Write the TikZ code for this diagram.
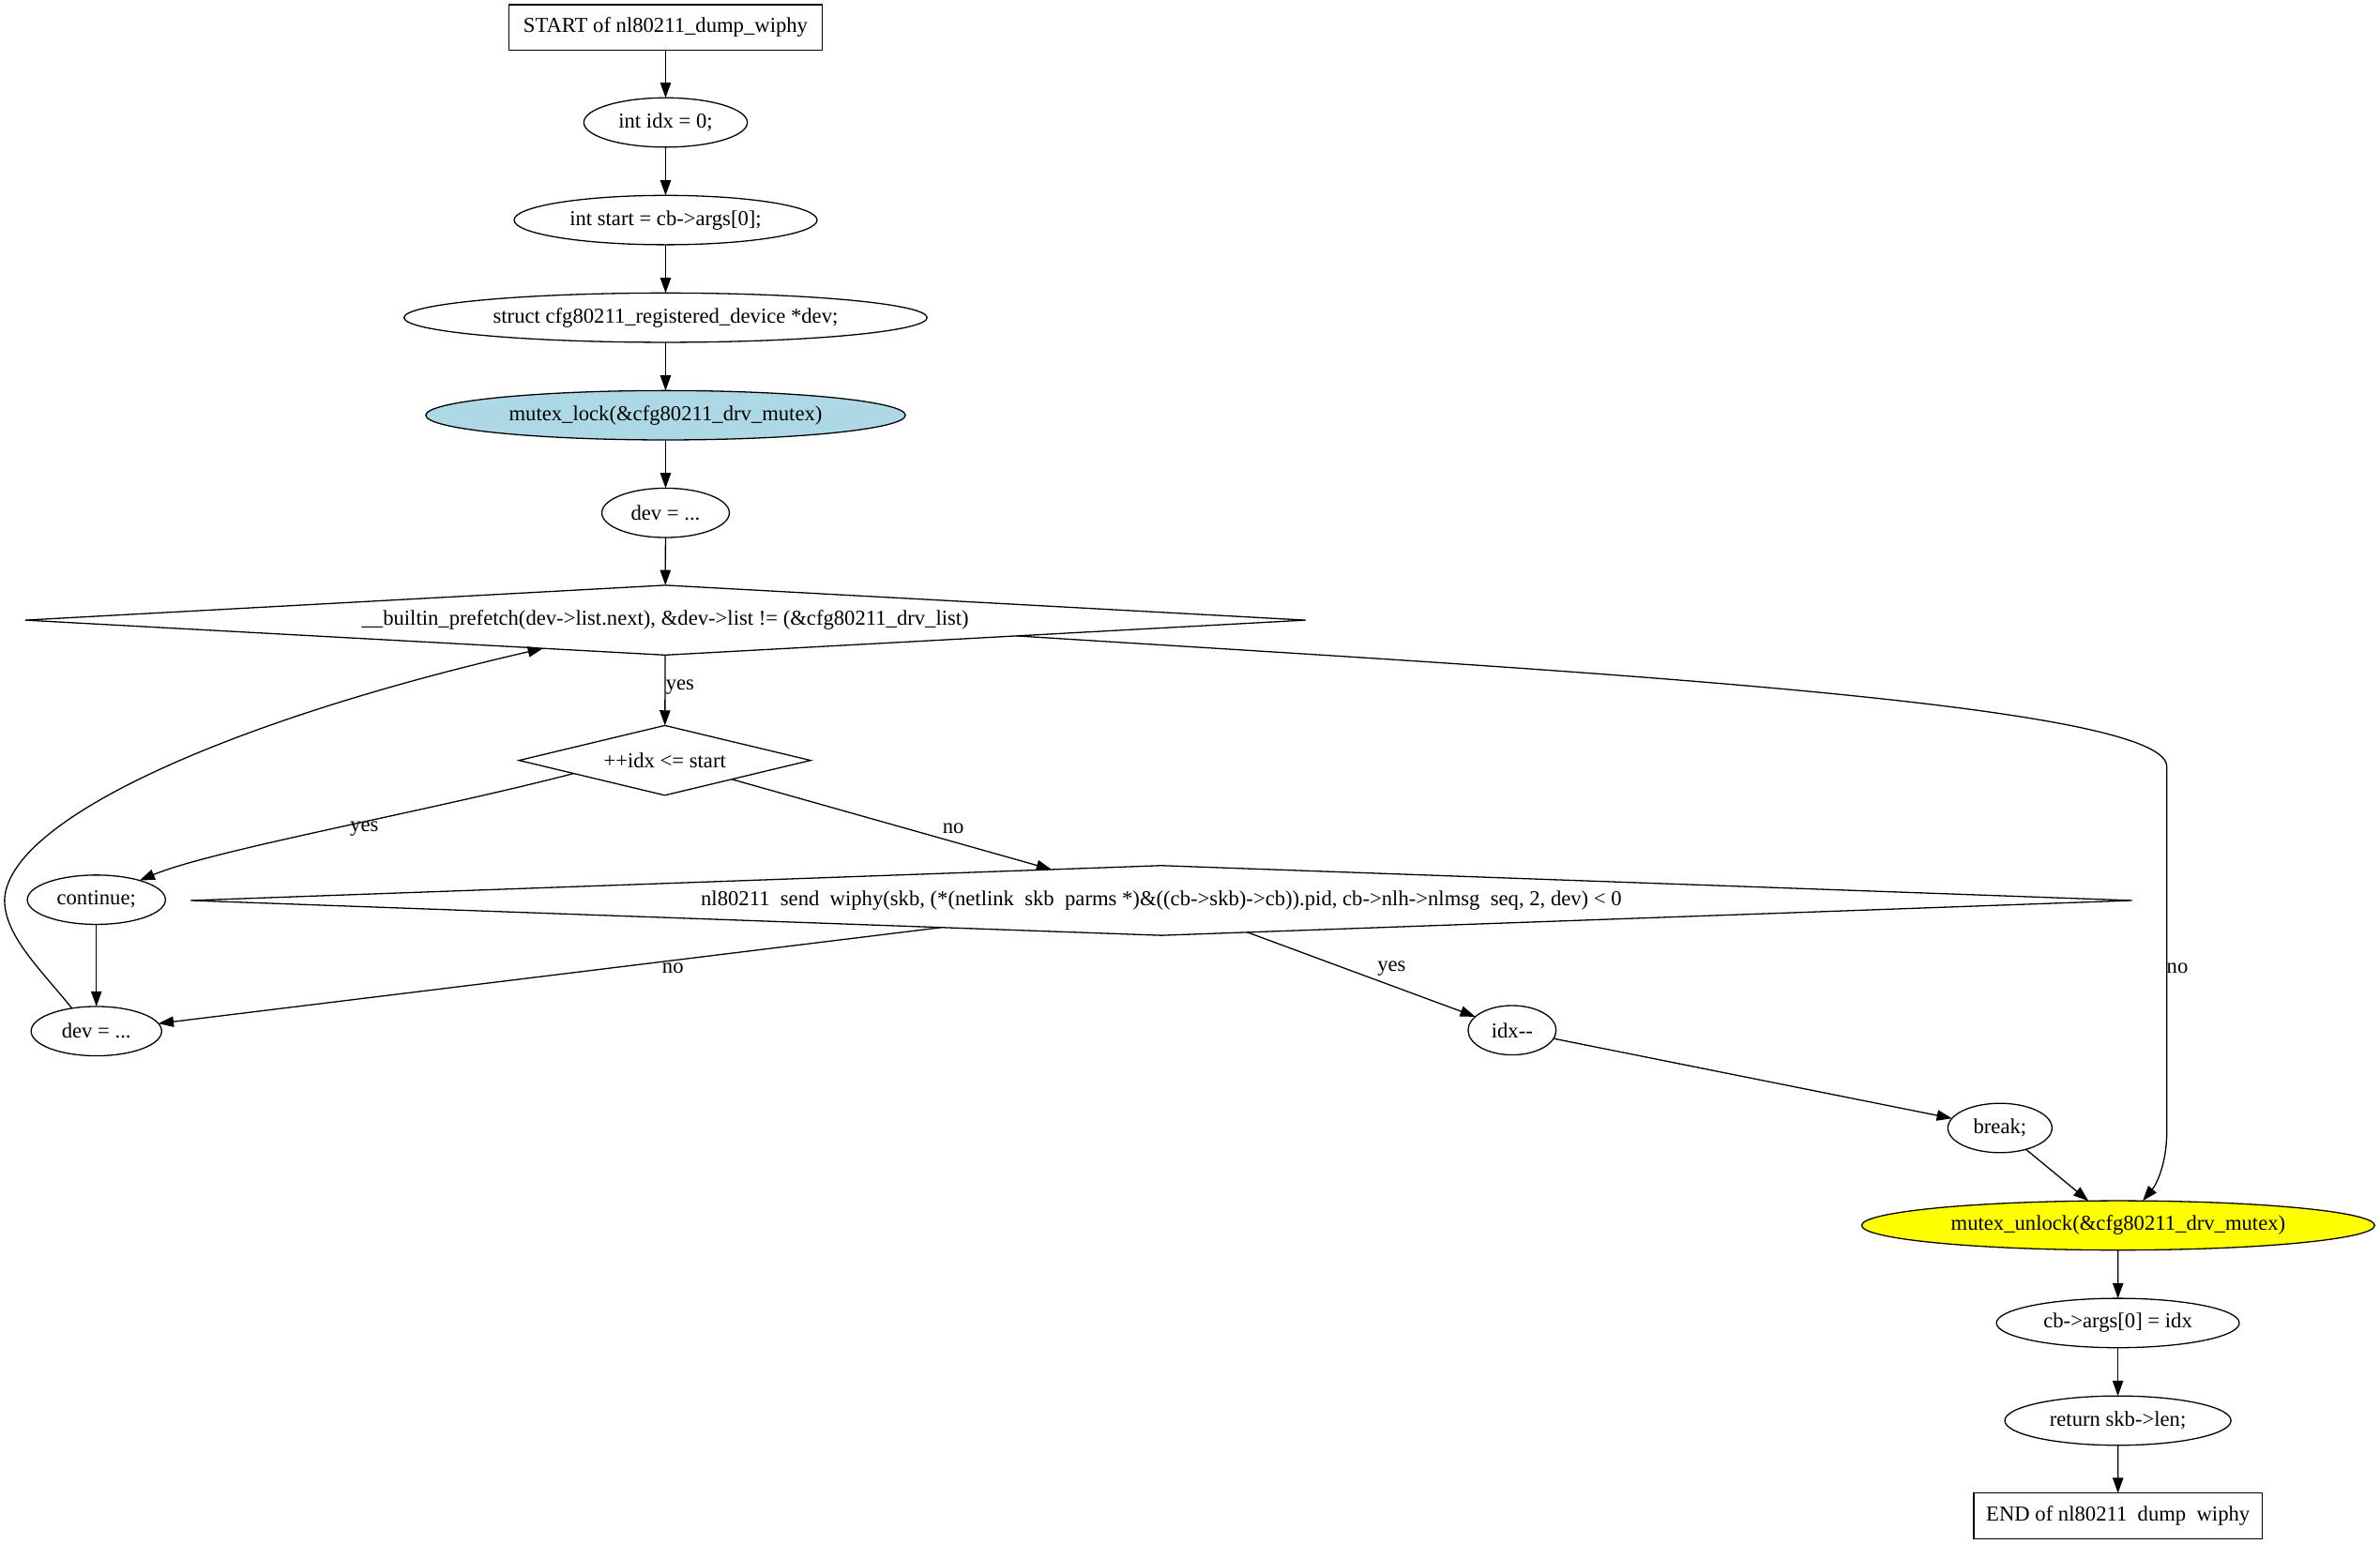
\documentclass[tikz,border=0pt]{standalone}
\usepackage{fontspec}
\setmainfont{Liberation Serif}
\usetikzlibrary{shapes.geometric,arrows.meta,calc}
\definecolor{lblue}{RGB}{173,216,230}
\definecolor{yel}{RGB}{255,255,0}
\begin{document}
\begin{tikzpicture}[x=1pt,y=-1pt,
  every node/.style={font=\fontsize{14pt}{16pt}\selectfont, inner sep=0pt, outer sep=0pt},
  base/.style={draw=black, line width=0.8pt},
  ell/.style={base, ellipse, minimum height=32.5pt},
  boxnode/.style={base, rectangle, minimum height=30pt},
  dia/.style={base, diamond, minimum height=46pt},
  arr/.style={line width=0.8pt, -{Triangle[length=10pt,width=7pt]}}
]
\useasboundingbox (0,0) rectangle (1568,1016.7);

\node[boxnode, minimum width=206pt] (start) at (438.5,18.1) {START of nl80211\_dump\_wiphy};
\node[ell, minimum width=107.7pt] (idx) at (438.5,80.7) {int idx = 0;};
\node[ell, minimum width=199.6pt] (st) at (438.5,145) {int start = cb->args[0];};
\node[ell, minimum width=344.6pt] (sdev) at (438.5,209.3) {struct cfg80211\_registered\_device *dev;};
\node[ell, minimum width=316pt, fill=lblue] (lock) at (438.5,273.6) {mutex\_lock(\&cfg80211\_drv\_mutex)};
\node[ell, minimum width=84pt] (dev1) at (438.5,337.9) {dev = ...};
\node[dia, minimum width=843.4pt, aspect=18.3] (loop) at (438.3,408.6) {\_\_builtin\_prefetch(dev->list.next), \&dev->list != (\&cfg80211\_drv\_list)};
\node[dia, minimum width=192pt, aspect=4.2] (cmp) at (438,501) {++idx <= start};
\node[ell, minimum width=91pt] (cont) at (63.5,592.8) {continue;};
\node[dia, minimum width=1279pt, aspect=27.8] (send) at (765.1,593.3) {nl80211\ \ send\ \ wiphy(skb, (*(netlink\ \ skb\ \ parms *)\&((cb->skb)->cb)).pid, cb->nlh->nlmsg\ \ seq, 2, dev) < 0};
\node[ell, minimum width=86pt] (dev2) at (63.5,679.4) {dev = ...};
\node[ell, minimum width=58pt] (dec) at (996.2,678.8) {idx-{}-};
\node[ell, minimum width=68.6pt] (brk) at (1317.6,743.2) {break;};
\node[ell, minimum width=338pt, fill=yel] (unlock) at (1395.5,807.4) {mutex\_unlock(\&cfg80211\_drv\_mutex)};
\node[ell, minimum width=160pt] (args) at (1395.3,871.7) {cb->args[0] = idx};
\node[ell, minimum width=149pt] (ret) at (1395.3,936) {return skb->len;};
\node[boxnode, minimum width=190pt] (end) at (1395.4,998.7) {END of nl80211\ \ dump\ \ wiphy};

\coordinate (loopout) at ($(loop.south)!0.549!(loop.east)$);
\coordinate (loopin) at ($(loop.south)!0.191!(loop.west)$);
\coordinate (cmpout) at ($(cmp.south)!0.625!(cmp.west)$);

\draw[arr] (start) -- (idx);
\draw[arr] (idx) -- (st);
\draw[arr] (st) -- (sdev);
\draw[arr] (sdev) -- (lock);
\draw[arr] (lock) -- (dev1);
\draw[arr] (dev1) -- (loop);
\draw[arr] (loop) -- (cmp) node (l1) at (448,453) {yes};
\draw[arr] (cmpout) .. controls (280,535) and (140,560) .. (cont.24) node (l2) at (240,546) {yes};
\draw[arr] (cmp) -- (send) node (l3) at (628,546) {no};
\draw[arr] (cont) -- (dev2);
\draw[arr] (send) -- (dev2) node (l4) at (443.3,638) {no};
\draw[arr] (send) -- (dec) node (l5) at (916.8,638) {yes};
\draw[arr] (dec) -- (brk);
\draw[arr] (brk) -- (unlock);
\draw[arr] (dev2.137.7) .. controls (28,640) and (3,617) .. (3,593) .. controls (5,540) and (150,475) .. (loopin);
\draw[arr] (loopout) .. controls (1000,440) and (1427.5,462) .. (1427.5,505) -- (1427.5,746) .. controls (1427.5,766) and (1421,780) .. (unlock.45.7) node (l6) at (1434.5,638) {no};
\draw[arr] (unlock) -- (args);
\draw[arr] (args) -- (ret);
\draw[arr] (ret) -- (end);
\end{tikzpicture}
\end{document}
